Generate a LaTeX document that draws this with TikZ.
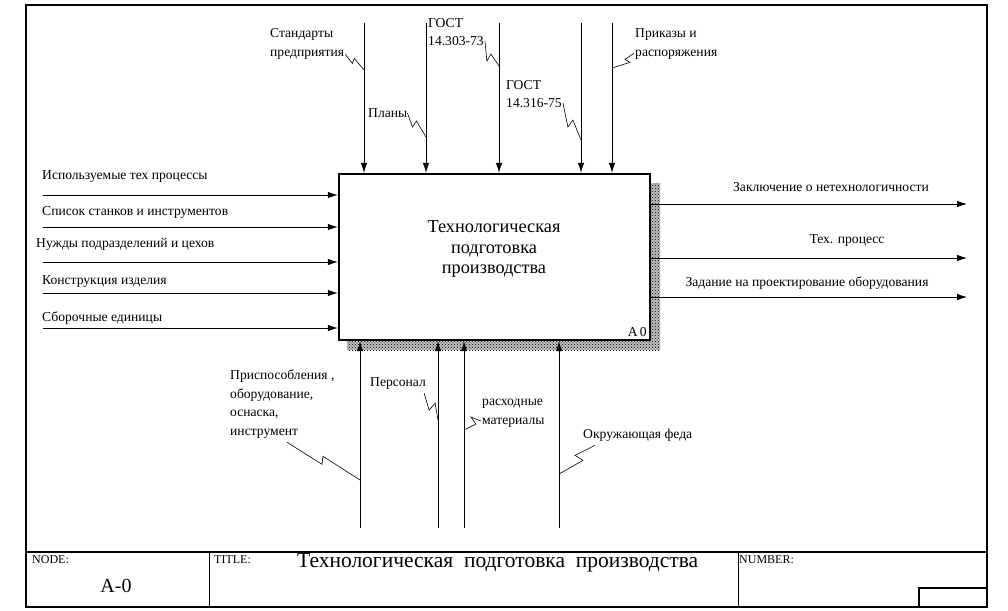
\documentclass[tikz,border=0pt]{standalone}
\usepackage{fontspec}
\setmainfont{Liberation Serif}
\usetikzlibrary{arrows.meta,patterns}
\begin{document}
\begin{tikzpicture}[
        x=1pt,
        y=-1pt,
        font=\fontsize{13.6}{18.5}\selectfont
    ]
    \tikzset{
        framel/.style = {line width=1.3pt},
        actbox/.style = {rectangle, draw=black, line width=2.4pt, fill=white, minimum width=311pt, minimum height=166pt, align=center},
        lbl/.style = {inner sep=0pt, align=left, anchor=west},
        lblc/.style = {inner sep=0pt, align=center},
        flow/.style = {-{Latex[length=10pt,width=6.5pt]}, line width=0.8pt},
        squig/.style = {-, line width=0.6pt},
        foot/.style = {inner sep=0pt, anchor=west, font=\fontsize{12}{13}\selectfont},
    }
    \useasboundingbox (0,0) rectangle (1008,610);
    \fill[white] (0,0) rectangle (1008,610);
    % frame and footer
    \draw[framel] (26,5) rectangle (987,607);
    \draw[framel] (26,552) -- (987,552);
    \draw[line width=0.8pt] (209,552) -- (209,607);
    \draw[line width=0.8pt] (738,552) -- (738,607);
    \draw[framel] (919,607) -- (919,588) -- (987,588);
    \node[foot] (fnode) at (32,560) {NODE:};
    \node[foot] (ftitle) at (214,560) {TITLE:};
    \node[foot] (fnum) at (739,560) {NUMBER:};
    \node[inner sep=0pt, font=\fontsize{20}{22}\selectfont] (fa0) at (116,586) {A-0};
    \node[inner sep=0pt, anchor=west, font=\fontsize{21.5}{24}\selectfont] (fname) at (297,563) {Технологическая\ \ подготовка\ \ производства};
    % activity box
    \fill[pattern=crosshatch dots, pattern color=black] (347,183) rectangle (660,350);
    \fill[black!25] (347,183) rectangle (660,350);
    \fill[pattern=crosshatch dots, pattern color=black] (347,183) rectangle (660,350);
    \node[actbox] (box) at (494.5,257) {};
    \node[lblc, font=\fontsize{18.3}{20.5}\selectfont] (boxt) at (494,249) {Технологическая\\подготовка\\производства};
    \node[inner sep=0pt, anchor=south east] (boxn) at (647,337) {А\,0};
    %
    \coordinate (c1) at (364,23);
    \coordinate (c2) at (426,23);
    \coordinate (c3) at (499,23);
    \coordinate (c4) at (581,23);
    \coordinate (c5) at (612,23);
    \draw[flow] (c1) -- (c1 |- box.north);
    \draw[flow] (c2) -- (c2 |- box.north);
    \draw[flow] (c3) -- (c3 |- box.north);
    \draw[flow] (c4) -- (c4 |- box.north);
    \draw[flow] (c5) -- (c5 |- box.north);
    %
    \node[lbl] (lst) at (270,44) {Стандарты\\предприятия};
    \node[lbl] (lg1) at (428,32) {ГОСТ\\14.303-73};
    \node[lbl] (lpl) at (368,113) {Планы};
    \node[lbl] (lg2) at (506,94) {ГОСТ\\14.316-75};
    \node[lbl] (lpr) at (635,44) {Приказы и\\распоряжения};
    \coordinate (c1z) at (364,70);
    \coordinate (c2z) at (426,137);
    \coordinate (c3z) at (499,66);
    \coordinate (c4z) at (581,140);
    \coordinate (c5z) at (612,68);
    \draw[squig] (lst.south east) ++(1,-5) -- ++(7,9) -- ++(2,-5) -- (c1z);
    \draw[squig] (lpl.east) -- ++(5,14) -- ++(4,-6) -- (c2z);
    \draw[squig] (lg1.south east) ++(1,-5) -- ++(2,20) -- ++(4,-7) -- (c3z);
    \draw[squig] (lg2.south east) ++(1,-5) -- ++(5,24) -- ++(5,-7) -- (c4z);
    \draw[squig] (lpr.south west) ++(-1,-6) -- ++(-9,6) -- ++(5,3) -- (c5z);
    %
    \coordinate (i1) at (43,195);
    \coordinate (i2) at (43,227);
    \coordinate (i3) at (43,262);
    \coordinate (i4) at (43,293);
    \coordinate (i5) at (43,328);
    \draw[flow] (i1) -- (i1 -| box.west);
    \draw[flow] (i2) -- (i2 -| box.west);
    \draw[flow] (i3) -- (i3 -| box.west);
    \draw[flow] (i4) -- (i4 -| box.west);
    \draw[flow] (i5) -- (i5 -| box.west);
    \node[lbl] (li1) at (42,177) {Используемые тех процессы};
    \node[lbl] (li2) at (42,212) {Список станков и инструментов};
    \node[lbl] (li3) at (36,244) {Нужды подразделений и цехов};
    \node[lbl] (li4) at (42,282) {Конструкция изделия};
    \node[lbl] (li5) at (42,318) {Сборочные единицы};
    %
    \coordinate (o1) at (967,204);
    \coordinate (o2) at (967,258);
    \coordinate (o3) at (967,297);
    \draw[flow] (o1 -| box.east) -- (o1);
    \draw[flow] (o2 -| box.east) -- (o2);
    \draw[flow] (o3 -| box.east) -- (o3);
    \node[lblc] (lo1) at (831,187) {Заключение о нетехнологичности};
    \node[lblc] (lo2) at (847,240) {Тех. процесс};
    \node[lblc] (lo3) at (807,283) {Задание на проектирование оборудования};
    %
    \coordinate (m1) at (360,528);
    \coordinate (m2) at (438,528);
    \coordinate (m3) at (464,528);
    \coordinate (m4) at (559,528);
    \draw[flow] (m1) -- (m1 |- box.south);
    \draw[flow] (m2) -- (m2 |- box.south);
    \draw[flow] (m3) -- (m3 |- box.south);
    \draw[flow] (m4) -- (m4 |- box.south);
    \node[lbl] (lm1) at (230,404) {Приспособления ,\\оборудование,\\оснаска,\\инструмент};
    \node[lbl] (lm2) at (370,383) {Персонал};
    \node[lbl] (lm3) at (482,413) {расходные\\материалы};
    \node[lbl] (lm4) at (583,435) {Окружающая феда};
    \coordinate (m1z) at (360,480);
    \coordinate (m2z) at (438,420);
    \coordinate (m3z) at (464,430);
    \coordinate (m4z) at (559,474);
    \draw[squig] (lm1.south west) ++(57,4) -- ++(35,22) -- ++(1,-8) -- (m1z);
    \draw[squig] (lm2.south east) ++(-2,4) -- ++(5,17) -- ++(6,-7) -- (m2z);
    \draw[squig] (lm3.south west) ++(-1,-6) -- ++(-10,-4) -- ++(5,7) -- (m3z);
    \draw[squig] (lm4.south west) ++(12,4) -- ++(-20,10) -- ++(8,5) -- (m4z);
\end{tikzpicture}
\end{document}
